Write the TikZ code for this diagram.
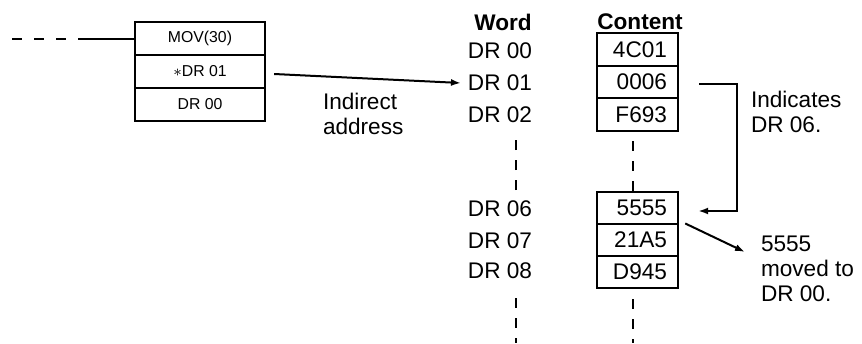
\documentclass[tikz,border=0pt]{standalone}
\usepackage{fontspec}
\setmainfont{Liberation Sans}
\usetikzlibrary{arrows.meta}

\begin{document}
\begin{tikzpicture}[x=0.5pt,y=-0.5pt,line width=1pt,
    >={Latex[length=5pt,width=3.5pt]},
    every node/.style={inner sep=0pt,font=\fontsize{11.3}{12.5}\selectfont}]

      \useasboundingbox (0,0) rectangle (862,343);

      \begin{scope}[every node/.style={draw,line width=1.2pt,minimum width=65pt,minimum height=16.5pt,font=\fontsize{7.9}{9}\selectfont}]
        \node (mov) at (200,38.5)  {MOV(30)};
        \node (src) at (200,71.5)  {$\ast$DR 01};
        \node (dst) at (200,104.5) {DR 00};
      \end{scope}

      \node[font=\bfseries\fontsize{11.3}{12.5}\selectfont] (word)    at (503,22) {Word};
      \node[font=\bfseries\fontsize{11.3}{12.5}\selectfont] (content) at (640,22) {Content};

      \node (w0) at (500,51)    {DR 00};
      \node (w1) at (500,83)    {DR 01};
      \node (w2) at (500,114.5) {DR 02};
      \node (w6) at (500,208.5) {DR 06};
      \node (w7) at (500,240.5) {DR 07};
      \node (w8) at (500,271)   {DR 08};

      \begin{scope}[every node/.style={draw,line width=1.2pt,minimum height=16.25pt,text width=29.5pt,inner xsep=5.5pt,inner ysep=0pt,align=right,font=\fontsize{11.3}{12.5}\selectfont}]
        \node (c0) at (637.5,49.5) {4C01};
        \node (c1) at (637.5,82)   {0006};
        \node (c2) at (637.5,114.5) {F693};
        \node (c6) at (637.5,208)  {5555};
        \node (c7) at (637.5,240)  {21A5};
        \node (c8) at (637.5,272)  {D945};
      \end{scope}

      \node[anchor=west,align=left] (indirect) at (322,114)   {Indirect\\address};
      \node[anchor=west,align=left] (points)   at (750,111.5) {Indicates\\DR 06.};
      \node[anchor=west,align=left] (moved)    at (760,269)   {5555\\moved to\\DR 00.};

      % rung into the instruction
      \coordinate (lead) at (88,38.5);
      \draw[dash pattern=on 4.75pt off 6.25pt] (12,38.5) -- (lead);
      \draw (lead) -- (mov.west);

      % omitted words
      \begin{scope}[dash pattern=on 5pt off 5pt]
        \draw ([xshift=-2.25pt]c6.north) -- ([xshift=-2.25pt]c2.south);
        \draw (516,190) -- (516,131);
        \draw[dash phase=5pt] ([xshift=-2.25pt]c8.south) -- (633,343);
        \draw[dash phase=5pt] (516,288) -- (516,343);
      \end{scope}

      \draw[->] ([xshift=4pt,yshift=-1.25pt]src.east) -- ([xshift=-3pt]w1.west);
      \draw[->] ([xshift=10pt,yshift=-1pt]c1.east) -| ([xshift=29pt,yshift=-1.5pt]c6.east) -- ([xshift=9.5pt,yshift=-1.5pt]c6.east);
      \draw[->] ([xshift=3pt,yshift=1pt]c6.south east) -- ([xshift=-7.5pt,yshift=8.5pt]moved.west);

\end{tikzpicture}
\end{document}
